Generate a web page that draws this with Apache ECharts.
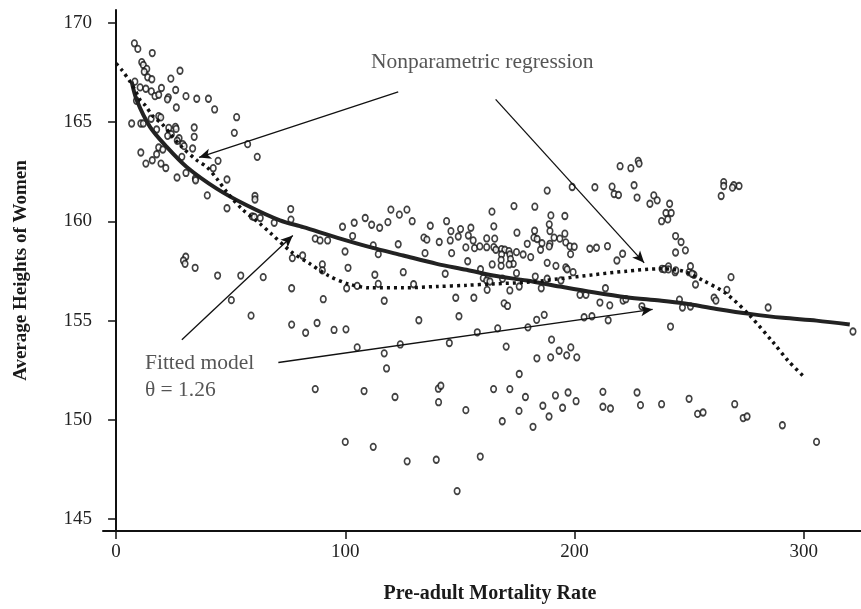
<!DOCTYPE html>
<html>
<head>
<meta charset="utf-8">
<script src="https://cdn.jsdelivr.net/npm/echarts@6/dist/echarts.min.js"></script>
<style>
  html, body { margin: 0; padding: 0; background: #fff; }
  #chart { width: 861px; height: 609px; }
</style>
</head>
<body>
<div id="chart"></div>
<script>
// pre-adult mortality rate (x) and average height of women (y), one per country
var mortality = [
  8.0, 9.5, 15.8, 11.2, 11.9, 13.4, 12.3, 27.9, 13.8, 15.6, 23.9, 8.2, 10.5, 13.0, 15.4, 17.0, 18.6, 19.8, 22.8, 22.4,
  26.0, 30.5, 35.2, 40.3, 8.9, 26.3, 43.0, 52.6, 18.6, 19.5, 15.3, 6.8, 10.8, 11.9, 23.0, 25.9, 26.2, 34.1, 17.7, 51.6,
  24.1, 22.5, 34.1, 27.5, 26.7, 29.1, 29.7, 57.4, 33.4, 18.6, 20.4, 10.8, 61.6, 17.7, 28.7, 15.8, 13.0, 19.6, 21.7, 44.5,
  42.4, 26.6, 30.5, 34.6, 48.4, 34.7, 39.8, 60.6, 60.6, 48.4, 59.4, 60.3, 62.9, 69.0, 30.4, 29.4, 30.1, 34.5, 44.3, 54.4,
  64.2, 50.3, 58.9, 76.2, 76.3, 119.9, 123.6, 126.9, 108.7, 98.8, 103.9, 111.5, 115.0, 118.6, 129.2, 137.1, 144.2, 150.3, 146.1, 153.7,
  149.3, 103.2, 86.9, 89.0, 92.3, 112.2, 134.3, 135.6, 141.0, 145.8, 152.6, 123.1, 99.9, 114.4, 134.8, 146.4, 81.4, 76.9, 153.4, 90.0,
  90.0, 101.2, 125.3, 143.6, 112.9, 76.6, 100.6, 105.2, 114.4, 129.8, 90.4, 117.0, 148.2, 149.6, 132.1, 76.6, 82.7, 87.7, 95.1, 100.3,
  105.2, 124.0, 117.0, 145.4, 188.1, 208.9, 216.4, 217.3, 219.2, 226.0, 227.3, 234.6, 236.1, 232.9, 199.0, 173.6, 182.7, 164.0, 189.7, 195.8,
  189.0, 189.3, 182.6, 174.9, 164.8, 154.8, 195.8, 191.1, 193.6, 196.2, 198.0, 199.9, 182.3, 183.7, 185.8, 189.3, 189.0, 179.4, 155.8, 161.7,
  165.2, 156.4, 158.7, 161.7, 164.8, 165.7, 168.2, 169.6, 171.4, 168.2, 171.8, 174.7, 168.0, 172.1, 173.3, 171.5, 168.0, 164.1, 174.7, 177.6,
  180.9, 185.2, 198.3, 206.7, 209.6, 214.4, 221.0, 218.5, 188.1, 191.9, 196.2, 196.8, 199.4, 159.0, 182.9, 188.1, 194.1, 160.2, 161.7, 163.1,
  168.6, 175.9, 161.9, 171.8, 185.5, 213.5, 202.4, 205.0, 156.1, 221.2, 222.4, 211.1, 215.4, 169.3, 170.8, 229.4, 186.8, 183.5, 204.2, 207.6,
  214.7, 166.5, 179.7, 157.6, 190.0, 170.2, 198.4, 193.3, 196.6, 201.0, 183.6, 189.6, 219.9, 224.6, 227.8, 228.2, 265.1, 265.1, 269.5, 271.8,
  268.9, 264.0, 241.5, 239.9, 242.2, 238.0, 240.7, 244.1, 246.5, 244.1, 248.4, 238.2, 239.3, 241.0, 241.0, 243.9, 244.2, 250.0, 250.6, 252.1,
  251.3, 252.8, 268.3, 266.5, 260.9, 261.7, 245.8, 247.1, 250.6, 284.5, 241.9, 238.0, 250.0, 253.7, 256.1, 269.9, 273.6, 275.3, 290.7, 305.6,
  118.0, 121.7, 112.2, 127.0, 139.7, 148.8, 140.6, 141.7, 140.7, 152.6, 158.9, 164.7, 171.8, 175.9, 168.5, 178.6, 175.8, 181.9, 186.2, 188.9,
  191.7, 194.8, 197.2, 200.7, 212.4, 212.4, 215.7, 227.3, 228.8, 86.9, 108.2, 100.0, 321.5
];
var height = [
  168.97, 168.69, 168.48, 168.02, 167.88, 167.68, 167.54, 167.59, 167.26, 167.16, 167.19, 167.04, 166.75, 166.68, 166.55, 166.31, 166.38, 166.72, 166.25, 166.15,
  166.62, 166.31, 166.18, 166.18, 166.08, 165.74, 165.64, 165.25, 165.30, 165.24, 165.17, 164.93, 164.93, 164.93, 164.71, 164.76, 164.66, 164.73, 164.63, 164.46,
  164.39, 164.31, 164.26, 164.19, 164.06, 163.89, 163.79, 163.89, 163.67, 163.72, 163.62, 163.47, 163.25, 163.38, 163.25, 163.08, 162.91, 162.91, 162.69, 163.05,
  162.68, 162.21, 162.44, 162.16, 162.11, 162.07, 161.31, 161.28, 161.10, 160.66, 160.25, 160.22, 160.17, 159.93, 158.22, 158.03, 157.86, 157.66, 157.27, 157.27,
  157.19, 156.03, 155.25, 160.62, 160.09, 160.59, 160.34, 160.59, 160.17, 159.73, 159.93, 159.83, 159.68, 159.96, 160.01, 159.78, 160.01, 159.61, 159.51, 159.29,
  159.24, 159.26, 159.13, 159.04, 159.04, 158.79, 159.18, 159.08, 158.96, 159.04, 158.69, 158.85, 158.48, 158.35, 158.40, 158.40, 158.28, 158.15, 157.99, 157.83,
  157.53, 157.66, 157.44, 157.36, 157.31, 156.63, 156.63, 156.75, 156.85, 156.83, 156.08, 156.00, 156.15, 155.22, 155.02, 154.80, 154.39, 154.88, 154.53, 154.56,
  153.65, 153.80, 153.35, 153.87, 161.55, 161.72, 161.75, 161.38, 161.33, 161.82, 161.20, 161.31, 161.06, 160.89, 161.73, 160.77, 160.74, 160.49, 160.30, 160.27,
  159.85, 159.51, 159.53, 159.43, 159.75, 159.68, 159.38, 159.18, 159.13, 158.94, 158.74, 158.72, 159.18, 159.11, 158.90, 158.87, 158.74, 158.87, 159.04, 159.14,
  159.13, 158.65, 158.74, 158.70, 158.70, 158.57, 158.60, 158.57, 158.50, 158.33, 158.33, 158.45, 158.06, 158.10, 157.86, 157.83, 157.76, 157.83, 157.39, 158.33,
  158.20, 158.57, 158.35, 158.62, 158.67, 158.75, 158.37, 158.03, 157.91, 157.76, 157.68, 157.59, 157.44, 157.59, 157.22, 157.11, 157.02, 157.14, 157.02, 156.97,
  157.11, 156.72, 156.55, 156.52, 156.63, 156.63, 156.30, 156.30, 156.15, 156.01, 156.08, 155.91, 155.77, 155.87, 155.74, 155.72, 155.29, 155.04, 155.17, 155.22,
  155.02, 154.61, 154.66, 154.41, 154.04, 153.69, 153.65, 153.48, 153.25, 153.15, 153.10, 153.15, 162.78, 162.68, 163.05, 162.91, 161.98, 161.78, 161.82, 161.78,
  161.70, 161.28, 160.89, 160.42, 160.42, 160.01, 160.10, 159.26, 158.96, 158.43, 158.54, 157.61, 157.59, 157.73, 157.58, 157.44, 157.53, 157.44, 157.74, 157.31,
  157.36, 156.82, 157.19, 156.55, 156.15, 156.01, 156.06, 155.66, 155.71, 155.66, 154.70, 150.79, 151.06, 150.30, 150.37, 150.79, 150.09, 150.17, 149.73, 148.89,
  152.59, 151.15, 148.64, 147.91, 147.99, 146.41, 151.57, 151.72, 150.89, 150.49, 148.15, 151.55, 151.55, 152.31, 149.93, 151.15, 150.45, 149.65, 150.71, 150.17,
  151.23, 150.61, 151.38, 150.94, 151.41, 150.66, 150.57, 151.38, 150.74, 151.55, 151.45, 148.89, 154.45
];

// fitted model curve (theta = 1.26)
var fitX = [6.8, 9.0, 14.8, 22.1, 30.8, 43.9, 57.0, 71.5, 81.7, 96.3, 110.8, 125.3, 139.9, 152.9, 164.5, 179.1, 193.6, 208.2, 222.7, 237.2, 247.4, 262.0, 276.5, 291.0, 305.6, 320.1];
var fitY = [167.04, 166.11, 164.76, 163.75, 162.74, 161.65, 160.81, 160.05, 159.71, 159.18, 158.70, 158.28, 157.86, 157.56, 157.27, 157.02, 156.72, 156.43, 156.18, 156.01, 155.87, 155.59, 155.34, 155.14, 155.00, 154.80];

// nonparametric regression curve
var npX = [0, 2.5, 6.1, 8.3, 10.5, 12.6, 16.3, 19.9, 23.5, 28.7, 35.2, 39.6, 43.9, 48.3, 54.8, 62.8, 67.2, 76.6, 84.6, 92.6, 101.3, 110.8, 125.3, 139.9, 152.9, 164.5, 179.1, 193.6, 208.2, 222.7, 237.2, 247.4, 256.1, 266.3, 276.5, 286.7, 293.2, 299.7];
var npY = [167.96, 167.63, 167.04, 166.62, 166.11, 165.86, 165.27, 164.93, 164.43, 163.75, 163.08, 162.74, 162.16, 161.48, 160.64, 159.88, 159.43, 158.45, 157.86, 157.27, 156.85, 156.65, 156.65, 156.72, 156.78, 156.85, 156.93, 157.11, 157.31, 157.49, 157.61, 157.49, 157.02, 156.35, 155.25, 153.90, 152.98, 152.22];

var xTicks = [0, 100, 200, 300];
var yTicks = [145, 150, 155, 160, 165, 170];

// annotations: arrows (from -> to) and labels
var arrowFrom = [[123.1, 166.53], [165.6, 166.15], [28.7, 154.04], [70.8, 152.89]];
var arrowTo = [[36.2, 163.22], [230.4, 157.91], [77.1, 159.29], [234.1, 155.57]];
var noteText = ['Nonparametric regression', 'Fitted model', 'θ = 1.26'];
var noteX = [111.2, 12.6, 12.6];
var noteY = [168.03, 152.85, 151.5];

var serif = '"Liberation Serif", "DejaVu Serif", serif';

var points = mortality.map(function (m, i) { return [m, height[i]]; });
var fitData = fitX.map(function (x, i) { return [x, fitY[i]]; });
var npData = npX.map(function (x, i) { return [x, npY[i]]; });
var arrows = arrowFrom.map(function (a, i) {
  return [{ coord: a }, { coord: arrowTo[i] }];
});
var notes = noteText.map(function (t, i) { return [noteX[i], noteY[i], t]; });

var chart = echarts.init(document.getElementById('chart'));
var option = {
  animation: false,
  backgroundColor: '#fff',
  grid: { left: 103, right: 0, top: 10, bottom: 78 },
  xAxis: {
    type: 'value',
    min: -5.7,
    max: 325,
    name: 'Pre-adult Mortality Rate',
    nameLocation: 'middle',
    nameGap: 53,
    nameTextStyle: { fontFamily: serif, fontWeight: 'bold', fontSize: 20, color: '#1a1a1a', padding: [0, 0, 0, 16] },
    splitLine: { show: false },
    axisLine: { lineStyle: { color: '#111', width: 2 } },
    axisTick: { show: true, inside: false, length: 8, customValues: xTicks, lineStyle: { color: '#111', width: 1.5 } },
    axisLabel: { customValues: xTicks, margin: 12, fontFamily: serif, fontSize: 19, color: '#222' }
  },
  yAxis: {
    type: 'value',
    min: 144.4,
    max: 170.65,
    name: 'Average Heights of Women',
    nameLocation: 'middle',
    nameGap: 72,
    nameTextStyle: { fontFamily: serif, fontWeight: 'bold', fontSize: 19, color: '#1a1a1a' },
    splitLine: { show: false },
    axisLine: { show: true, lineStyle: { color: '#111', width: 2 } },
    axisTick: { show: true, inside: false, length: 8, customValues: yTicks, lineStyle: { color: '#111', width: 1.5 } },
    axisLabel: { customValues: yTicks, margin: 11, fontFamily: serif, fontSize: 19, color: '#222' }
  },
  series: [
    {
      name: 'countries',
      type: 'scatter',
      data: points,
      symbol: 'circle',
      symbolSize: [5.5, 6.5],
      itemStyle: { color: '#fff', borderColor: '#111', borderWidth: 1.7 },
      z: 3
    },
    {
      name: 'fitted',
      type: 'line',
      data: fitData,
      smooth: 0.3,
      showSymbol: false,
      lineStyle: { color: '#222', width: 4 },
      z: 4
    },
    {
      name: 'nonparametric',
      type: 'line',
      data: npData,
      smooth: 0.3,
      showSymbol: false,
      lineStyle: { color: '#111', width: 3.5, type: [3, 4] },
      z: 4
    },
    {
      name: 'notes',
      type: 'scatter',
      data: notes,
      symbolSize: 0,
      silent: true,
      label: {
        show: true,
        position: 'right',
        distance: 0,
        formatter: function (p) { return p.data[2]; },
        fontFamily: serif,
        fontSize: 21.5,
        color: '#2a2a2a'
      },
      markLine: {
        silent: true,
        symbol: ['none', 'arrow'],
        symbolSize: [8, 12],
        label: { show: false },
        lineStyle: { color: '#111', width: 1.3, type: 'solid' },
        data: arrows
      },
      z: 5
    }
  ]
};
chart.setOption(option);
</script>
</body>
</html>
